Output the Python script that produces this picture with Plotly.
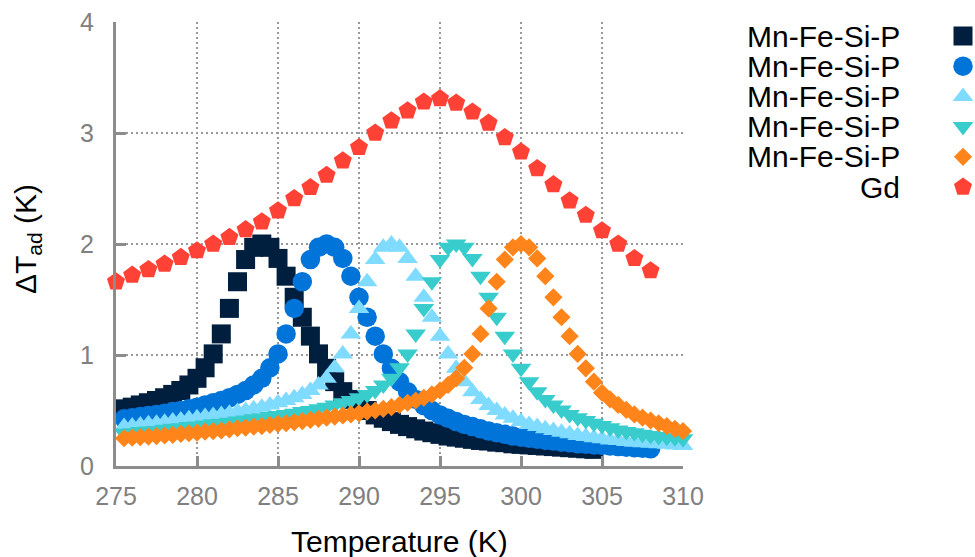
import numpy as np
import plotly.graph_objects as go

# ---------------- data ----------------
T_STEP = 0.5
black_T0 = 275.5
black_y = [0.515, 0.53, 0.55, 0.57, 0.59, 0.615, 0.645, 0.68, 0.73, 0.79,
           0.885, 1.01, 1.19, 1.42, 1.66, 1.86, 1.97, 2.00, 1.97, 1.87,
           1.71, 1.52, 1.34, 1.17, 1.01, 0.88, 0.76, 0.67, 0.60, 0.545,
           0.50, 0.46, 0.43, 0.40, 0.375, 0.355, 0.335, 0.315, 0.30, 0.285,
           0.27, 0.26, 0.25, 0.24, 0.23, 0.225, 0.215, 0.21, 0.20, 0.195,
           0.19, 0.185, 0.18, 0.175, 0.17, 0.165, 0.16, 0.155, 0.15]

blue_T0 = 275.5
blue_y = [0.425, 0.435, 0.445, 0.455, 0.465, 0.475, 0.49, 0.50,
          0.515, 0.53, 0.55, 0.57, 0.59, 0.615, 0.645, 0.68, 0.73, 0.79,
          0.885, 1.01, 1.19, 1.42, 1.66, 1.86, 1.97, 2.00, 1.97, 1.87,
          1.71, 1.52, 1.34, 1.17, 1.01, 0.88, 0.76, 0.67, 0.60, 0.545,
          0.50, 0.46, 0.43, 0.40, 0.375, 0.355, 0.335, 0.315, 0.30, 0.285,
          0.27, 0.26, 0.25, 0.24, 0.23, 0.225, 0.215, 0.21, 0.20, 0.195,
          0.19, 0.185, 0.18, 0.175, 0.17, 0.165, 0.16, 0.155]

aqua_T0 = 275.5
aqua_y = [0.355, 0.36, 0.37, 0.38, 0.385, 0.395, 0.405, 0.415,
          0.425, 0.435, 0.445, 0.455, 0.465, 0.475, 0.49, 0.50,
          0.515, 0.53, 0.55, 0.57, 0.59, 0.615, 0.645, 0.68, 0.73, 0.79,
          0.885, 1.01, 1.19, 1.42, 1.66, 1.86, 1.97, 2.00, 1.97, 1.87,
          1.71, 1.52, 1.34, 1.17, 1.01, 0.88, 0.76, 0.67, 0.60, 0.545,
          0.50, 0.46, 0.43, 0.40, 0.375, 0.355, 0.335, 0.32, 0.305, 0.29,
          0.275, 0.265, 0.255, 0.245, 0.235, 0.23, 0.22, 0.215, 0.21, 0.205,
          0.20, 0.195, 0.19, 0.185]

teal_T0 = 275.5
teal_y = [0.295, 0.30, 0.31, 0.315, 0.32, 0.33, 0.34, 0.345,
          0.355, 0.36, 0.37, 0.38, 0.385, 0.395, 0.405, 0.415,
          0.425, 0.435, 0.445, 0.455, 0.465, 0.475, 0.49, 0.50,
          0.515, 0.53, 0.55, 0.57, 0.59, 0.615, 0.645, 0.68, 0.73, 0.79,
          0.885, 1.01, 1.19, 1.42, 1.66, 1.86, 1.97, 2.00, 1.97, 1.87,
          1.71, 1.52, 1.34, 1.17, 1.01, 0.88, 0.76, 0.67, 0.60, 0.55,
          0.505, 0.465, 0.435, 0.41, 0.385, 0.365, 0.345, 0.325, 0.31, 0.30,
          0.285, 0.275, 0.265, 0.26, 0.255, 0.245]

orange_T0 = 275.5
orange_y = [0.25, 0.255, 0.26, 0.265, 0.27, 0.275, 0.28, 0.29,
            0.295, 0.30, 0.31, 0.315, 0.32, 0.33, 0.34, 0.345,
            0.355, 0.36, 0.37, 0.38, 0.385, 0.395, 0.405, 0.415,
            0.425, 0.435, 0.445, 0.455, 0.465, 0.475, 0.49, 0.50,
            0.515, 0.53, 0.55, 0.57, 0.59, 0.615, 0.645, 0.68, 0.73, 0.79,
            0.885, 1.01, 1.19, 1.42, 1.66, 1.86, 1.97, 2.00, 1.97, 1.87,
            1.71, 1.52, 1.34, 1.17, 1.01, 0.88, 0.76, 0.66, 0.60, 0.55,
            0.505, 0.465, 0.435, 0.41, 0.385, 0.36, 0.335, 0.315]

gd_T = [275, 276, 277, 278, 279, 280, 281, 282, 283, 284, 285, 286, 287,
        288, 289, 290, 291, 292, 293, 294, 295, 296, 297, 298, 299, 300,
        301, 302, 303, 304, 305, 306, 307, 308]
gd_y = [1.66, 1.72, 1.77, 1.82, 1.88, 1.94, 2.00, 2.06, 2.13, 2.20, 2.30,
        2.41, 2.51, 2.62, 2.75, 2.87, 3.00, 3.11, 3.20, 3.28, 3.31, 3.27,
        3.19, 3.09, 2.96, 2.83, 2.68, 2.535, 2.39, 2.26, 2.12, 2.00, 1.87,
        1.76]

series_names = ["Mn-Fe-Si-P", "Mn-Fe-Si-P", "Mn-Fe-Si-P", "Mn-Fe-Si-P",
                "Mn-Fe-Si-P", "Gd"]
x_ticks = [275, 280, 285, 290, 295, 300, 305, 310]
y_ticks = [0, 1, 2, 3, 4]

# ---------------- style ----------------
colors = ["#001F3F", "#0074D9", "#7FDBFF", "#39CCCC", "#FF851B", "#FF4136"]
symbols = ["square", "circle", "triangle-up", "triangle-down", "diamond",
           "pentagon"]
sizes = [19, 19.5, 18, 18, 14, 19]

def grid(T0, ys):
    return T0 + T_STEP * np.arange(len(ys))

series = [
    (grid(black_T0, black_y), black_y),
    (grid(blue_T0, blue_y), blue_y),
    (grid(aqua_T0, aqua_y), aqua_y),
    (grid(teal_T0, teal_y), teal_y),
    (grid(orange_T0, orange_y), orange_y),
    (np.array(gd_T, dtype=float), gd_y),
]

FONT = "Liberation Sans, Arial, sans-serif"
W, H = 975, 557
ML, MT, MB = 116, 22, 91
PLOT_R = 683
paper_w = W - ML
x_dom_end = (PLOT_R - ML) / paper_w
plot_h = H - MT - MB
plot_bottom = MT + plot_h

def px_to_paper_x(px):
    return (px - ML) / paper_w

def px_to_paper_y(py):
    return (plot_bottom - py) / plot_h

fig = go.Figure()
for (tx, ty), c, s, sz, nm in zip(series, colors, symbols, sizes, series_names):
    fig.add_trace(go.Scatter(
        x=tx, y=ty, mode="markers", name=nm, showlegend=False,
        marker=dict(symbol=s, size=sz, color=c, line=dict(width=0)),
        cliponaxis=False, xaxis="x", yaxis="y"))

# custom legend (text left, symbol right)
leg_x_px = 963
leg_text_right_px = 901
row0_px, row_step = 36, 30.2
xc = px_to_paper_x(leg_x_px)
half = 1 - xc
y2_top = -(row0_px - MT) / row_step
y2_bot = (plot_bottom - row0_px) / row_step
for i, (c, s, sz, nm) in enumerate(zip(colors, symbols, sizes, series_names)):
    fig.add_trace(go.Scatter(
        x=[0], y=[i], mode="markers", showlegend=False, hoverinfo="skip",
        marker=dict(symbol=s, size=sz, color=c, line=dict(width=0)),
        cliponaxis=False, xaxis="x2", yaxis="y2"))
    fig.add_annotation(text=nm, x=px_to_paper_x(leg_text_right_px),
                       xref="paper", y=i, yref="y2", xanchor="right",
                       yanchor="middle", showarrow=False, borderpad=0,
                       font=dict(family=FONT, size=30, color="#000000"))

axis_gray = "#8c8c8c"
grid_gray = "#999999"
fig.update_layout(
    width=W, height=H,
    margin=dict(l=ML, r=0, t=MT, b=MB, pad=0, autoexpand=False),
    paper_bgcolor="white", plot_bgcolor="white",
    font=dict(family=FONT),
    showlegend=False,
    xaxis=dict(domain=[0, x_dom_end], range=[275, 310], tickvals=x_ticks,
               ticktext=[str(v) for v in x_ticks],
               showline=True, linecolor=axis_gray, linewidth=3,
               ticks="inside", ticklen=10, tickwidth=2.5, tickcolor=axis_gray,
               showgrid=True, gridcolor=grid_gray, gridwidth=1.5,
               griddash="2px,3px", zeroline=False, automargin=False,
               tickfont=dict(family=FONT, size=25, color="#808080"),
               ticklabelstandoff=6, anchor="y"),
    yaxis=dict(domain=[0, 1], range=[0, 4], tickvals=y_ticks,
               ticktext=[str(v) for v in y_ticks],
               showline=True, linecolor=axis_gray, linewidth=3,
               ticks="inside", ticklen=10, tickwidth=2.5, tickcolor=axis_gray,
               showgrid=True, gridcolor=grid_gray, gridwidth=1.5,
               griddash="2px,3px", zeroline=False, automargin=False,
               tickfont=dict(family=FONT, size=25, color="#808080"),
               ticklabelstandoff=14, anchor="x"),
    xaxis2=dict(domain=[1 - 2 * half, 1], range=[-1, 1], visible=False,
                anchor="y2", fixedrange=True, automargin=False),
    yaxis2=dict(domain=[0, 1], range=[y2_bot, y2_top], visible=False,
                anchor="x2", fixedrange=True, automargin=False),
)

fig.add_annotation(text="Temperature (K)", x=px_to_paper_x((ML + PLOT_R) / 2),
                   xref="paper", y=px_to_paper_y(541), yref="paper",
                   xanchor="center", yanchor="middle", showarrow=False,
                   font=dict(family=FONT, size=30, color="#000000"))
fig.add_annotation(text="ΔT<sub>ad</sub> (K)", x=px_to_paper_x(27.5),
                   xref="paper", y=px_to_paper_y(239.5), yref="paper",
                   xanchor="center", yanchor="middle", textangle=-90,
                   showarrow=False,
                   font=dict(family=FONT, size=30, color="#000000"))

fig.write_html("out.html")
